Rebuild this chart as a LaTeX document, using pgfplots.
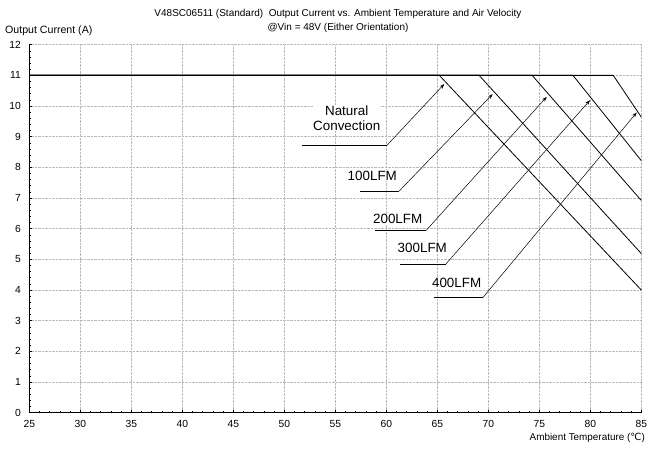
\documentclass[border=0pt]{standalone}
\usepackage{fontspec}
\setmainfont{Liberation Sans}
\newfontfamily\djv{DejaVu Sans}
\usepackage{pgfplots}
\pgfplotsset{compat=1.18}
\usetikzlibrary{arrows.meta}
\begin{document}
\begin{tikzpicture}[x=1pt,y=1pt]
\useasboundingbox (-29.3,-39.3) rectangle (619.7,412.7);
\begin{axis}[
  at={(0,0)}, anchor=south west,
  scale only axis, width=612pt, height=368pt,
  xmin=25, xmax=85, ymin=0, ymax=12,
  xtick={25,30,...,85}, ytick={0,1,...,12},
  minor x tick num=4, minor y tick num=4,
  tick align=inside, tick pos=left,
  major tick length=3pt, minor tick length=2pt,
  every tick/.style={black, line width=0.6pt},
  axis lines*=left,
  axis line style={-, black, line width=1.1pt},
  grid=major,
  major grid style={gray!55, densely dotted, line width=0.6pt},
  /pgf/number format/assume math mode=true,
  ticklabel style={font=\fontsize{10.3}{12}\selectfont},
  xticklabel style={yshift=-4pt},
  yticklabel style={xshift=-5pt},
  clip=false,
]
\addplot[black, line width=0.8pt] coordinates {(25,11) (65.2,11) (85,4.0)};
\addplot[black, line width=0.8pt] coordinates {(25,11) (69.1,11) (85,5.19)};
\addplot[black, line width=0.8pt] coordinates {(25,11) (74.3,11) (85,6.92)};
\addplot[black, line width=0.8pt] coordinates {(25,11) (78.3,11) (85,8.22)};
\addplot[black, line width=0.8pt] coordinates {(25,11) (82.25,11) (85,9.64)};

% annotations
\begin{scope}[line width=0.6pt]
\draw (axis cs:51.76,8.71) -- (axis cs:60.04,8.71);
\draw[-{Stealth[length=5pt,width=3.5pt]}, line width=0.5pt] (axis cs:60.04,8.71) -- (axis cs:65.69,10.72);
\draw (axis cs:57.42,7.23) -- (axis cs:61.27,7.23);
\draw[-{Stealth[length=5pt,width=3.5pt]}, line width=0.5pt] (axis cs:61.27,7.23) -- (axis cs:70.43,10.39);
\draw (axis cs:58.85,5.95) -- (axis cs:63.92,5.95);
\draw[-{Stealth[length=5pt,width=3.5pt]}, line width=0.5pt] (axis cs:63.92,5.95) -- (axis cs:75.73,10.30);
\draw (axis cs:61.34,4.84) -- (axis cs:65.82,4.84);
\draw[-{Stealth[length=5pt,width=3.5pt]}, line width=0.5pt] (axis cs:65.82,4.84) -- (axis cs:79.97,10.19);
\draw (axis cs:64.68,3.75) -- (axis cs:69.46,3.75);
\draw[-{Stealth[length=5pt,width=3.5pt]}, line width=0.5pt] (axis cs:69.46,3.75) -- (axis cs:84.55,9.79);
\end{scope}
\node[font=\fontsize{13.4}{15.5}\selectfont, align=center, fill=white, inner sep=0.5pt] at (axis cs:56.12,9.6) {Natural\\Convection};
\node[font=\fontsize{13.4}{15}\selectfont, fill=white, inner sep=0.5pt] at (axis cs:58.63,7.73) {100LFM};
\node[font=\fontsize{13.4}{15}\selectfont, fill=white, inner sep=0.5pt] at (axis cs:61.12,6.32) {200LFM};
\node[font=\fontsize{13.4}{15}\selectfont, fill=white, inner sep=0.5pt] at (axis cs:63.53,5.36) {300LFM};
\node[font=\fontsize{13.4}{15}\selectfont, fill=white, inner sep=0.5pt] at (axis cs:66.9,4.22) {400LFM};
\end{axis}
\node[font=\fontsize{10}{12}\selectfont] at (308.7,398.5) {V48SC06511 (Standard)\ \ Output Current vs. Ambient Temperature and Air Velocity};
\node[font=\fontsize{10}{12}\selectfont] at (308.7,384.5) {@Vin = 48V (Either Orientation)};
\node[font=\fontsize{10.6}{12}\selectfont, anchor=west, inner sep=0pt] at (-24.3,382) {Output Current (A)};
\node[font=\fontsize{9.9}{12}\selectfont, anchor=east, inner sep=0pt] at (615.7,-25.3) {Ambient Temperature ({\djv ℃})};
\end{tikzpicture}
\end{document}
